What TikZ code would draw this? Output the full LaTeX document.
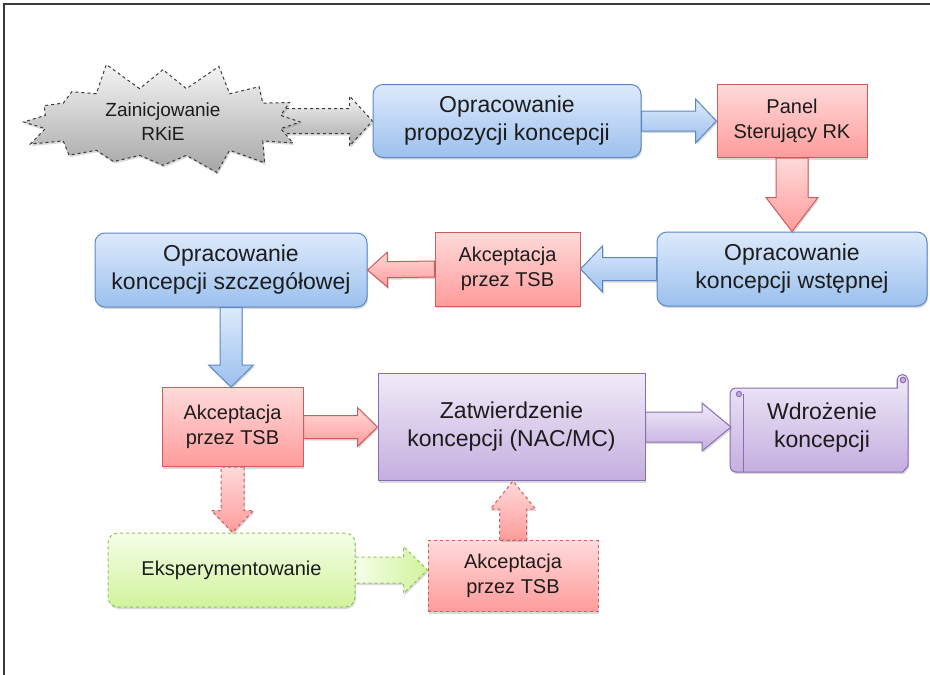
\documentclass[tikz,border=0pt]{standalone}
\usepackage{fontspec}
\setmainfont{Liberation Sans}
\usetikzlibrary{arrows,shapes,positioning,calc,shadows,backgrounds}

\definecolor{bluetop}{HTML}{DDEAFB}
\definecolor{bluebot}{HTML}{9CC0EE}
\definecolor{blueline}{HTML}{5A88C6}
\definecolor{redtop}{HTML}{FFDADA}
\definecolor{redbot}{HTML}{FF9B9B}
\definecolor{redline}{HTML}{CF5B5B}
\definecolor{purtop}{HTML}{F0EAF8}
\definecolor{purbot}{HTML}{C4AEDF}
\definecolor{purline}{HTML}{8A6CB5}
\definecolor{grntop}{HTML}{F5FEE8}
\definecolor{grnbot}{HTML}{D0F39B}
\definecolor{grnline}{HTML}{93C05A}
\definecolor{graytop}{HTML}{F4F4F4}
\definecolor{graybot}{HTML}{A6A6A6}
\definecolor{grayline}{HTML}{3A3A3A}
\definecolor{txt}{HTML}{1C1C1C}

\newcommand\bigtxt{\fontsize{23}{28}\selectfont}
\newcommand\midtxt{\fontsize{20}{25}\selectfont}
\newcommand\smalltxt{\fontsize{19}{24}\selectfont}

% block arrow: [style]{from}{to}{shaft half}{head half}{head length}
\newcommand\blockarrow[6][]{%
  \coordinate (hb) at ($(#3)!#6!(#2)$);
  \draw[#1] ($(#2)!#4!90:(#3)$) -- ($(hb)!#4!-90:(#2)$) -- ($(hb)!#5!-90:(#2)$)
    -- (#3) -- ($(hb)!#5!90:(#2)$) -- ($(hb)!#4!90:(#2)$) -- ($(#2)!#4!-90:(#3)$) -- cycle;
}

\begin{document}
\begin{tikzpicture}[x=1pt,y=-1pt,
  shade/.style={drop shadow={opacity=0.3,shadow xshift=1pt,shadow yshift=-2pt}},
  box/.style={shade,line width=1pt,align=center,inner sep=0pt,text=txt},
  bluebox/.style={box,draw=blueline,rounded corners=10pt,top color=bluetop,bottom color=bluebot,font=\bigtxt},
  redbox/.style={box,draw=redline,top color=redtop,bottom color=redbot,font=\midtxt},
  purbox/.style={box,draw=purline,top color=purtop,bottom color=purbot,font=\bigtxt},
  grnbox/.style={box,draw=grnline,rounded corners=10pt,top color=grntop,bottom color=grnbot,font=\midtxt},
  burst/.style={shade,starburst,starburst points=16,starburst point height=30pt,random starburst=5,
    draw=grayline,dashed,line width=1pt,top color=graytop,bottom color=graybot,align=center,font=\smalltxt,text=txt},
  bluearrow/.style={shade,draw=blueline,line width=1pt,top color=bluetop,bottom color=bluebot},
  redarrow/.style={shade,draw=redline,line width=1pt,top color=redtop,bottom color=redbot},
  purarrow/.style={shade,draw=purline,line width=1pt,top color=purtop,bottom color=purbot},
  grnarrow/.style={shade,draw=grnline,dashed,line width=1pt,left color=grntop,right color=grnbot},
  grayarrow/.style={shade,draw=grayline,dashed,line width=1pt,top color=graytop,bottom color=graybot}]

\useasboundingbox (0,0) rectangle (930,675);
\draw[line width=1.2pt,grayline] (4,675) -- (4,4) -- (930,4);

\node[burst,minimum width=300pt,minimum height=128pt] (init) at (163,122) {Zainicjowanie\\RKiE};
\node[bluebox,minimum width=268pt,minimum height=73pt] (propo) at (507,121) {Opracowanie\\propozycji koncepcji};
\node[redbox,minimum width=150pt,minimum height=73pt] (panel) at (792,121) {Panel\\Sterujący RK};
\node[bluebox,minimum width=270pt,minimum height=74pt] (wstep) at (792,269) {Opracowanie\\koncepcji wstępnej};
\node[redbox,minimum width=145pt,minimum height=74pt] (akc1) at (507.5,269) {Akceptacja\\przez TSB};
\node[bluebox,minimum width=272pt,minimum height=74pt] (szczeg) at (231,270) {Opracowanie\\koncepcji szczegółowej};
\node[redbox,minimum width=141pt,minimum height=79pt] (akc2) at (232.5,427) {Akceptacja\\przez TSB};
\node[purbox,minimum width=267pt,minimum height=107pt] (zatw) at (511.5,427) {Zatwierdzenie\\koncepcji (NAC/MC)};
\node[grnbox,dashed,minimum width=247pt,minimum height=74pt] (eksp) at (231.5,570) {Eksperymentowanie};
\node[redbox,dashed,minimum width=170pt,minimum height=71pt] (akc3) at (513,576) {Akceptacja\\przez TSB};

% scroll
\draw[shade,draw=purline,line width=1pt,top color=purtop,bottom color=purbot]
  (730,394) arc[start angle=180,end angle=270,radius=6] -- (897,388) -- (897,380)
  arc[start angle=180,end angle=360,radius=5.5] -- (908,466) -- (903,472) -- (736,472)
  arc[start angle=90,end angle=180,radius=6] -- cycle;
\draw[purline,line width=1pt,fill=purbot] (903,380) circle (2.8pt) (739,394) circle (2.6pt);
\draw[purline,line width=1pt] (897,380) -- (897,388) (743,394) -- (743,472);
\node[font=\bigtxt,align=center,text=txt] (wdroz) at (822,428) {Wdrożenie\\koncepcji};
\coordinate (scrl) at (731,427);

\begin{pgfonlayer}{background}
\coordinate (initr) at (268,121);
\blockarrow[grayarrow]{initr}{propo.west}{12.5pt}{25pt}{23pt}
\end{pgfonlayer}
\blockarrow[bluearrow]{propo.east}{panel.west}{10pt}{22pt}{21pt}
\blockarrow[redarrow]{panel.south}{wstep.north}{16pt}{26pt}{34pt}
\blockarrow[bluearrow]{wstep.west}{akc1.east}{11.5pt}{23pt}{22pt}
\blockarrow[redarrow]{akc1.west}{szczeg.east}{8pt}{17.5pt}{20pt}
\coordinate (szs) at (szczeg.south |- akc2.north);
\blockarrow[bluearrow]{szczeg.south}{szs}{11pt}{22.5pt}{22pt}
\blockarrow[redarrow]{akc2.east}{zatw.west}{11.5pt}{19.5pt}{20pt}
\blockarrow[purarrow]{zatw.east}{scrl}{15pt}{24pt}{29pt}
\coordinate (ekn) at (akc2.south |- eksp.north);
\blockarrow[redarrow,dashed]{akc2.south}{ekn}{11.5pt}{21pt}{22pt}
\coordinate (a3w) at (eksp.east -| akc3.west);
\blockarrow[grnarrow]{eksp.east}{a3w}{13pt}{23.5pt}{24pt}
\coordinate (zts) at (akc3.north |- zatw.south);
\blockarrow[redarrow,dashed]{akc3.north}{zts}{13.5pt}{22.5pt}{28pt}
\end{tikzpicture}
\end{document}
